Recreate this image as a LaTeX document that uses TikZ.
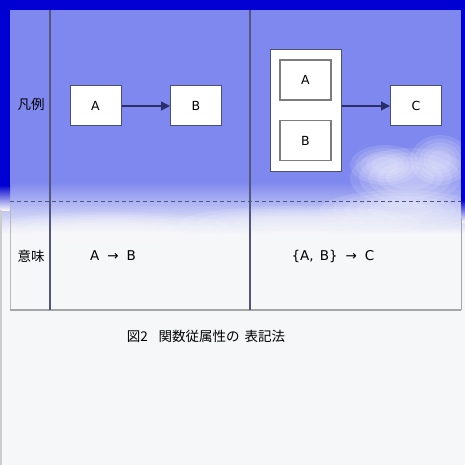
\documentclass[tikz,border=0pt]{standalone}
\usepackage{fontspec}
\setmainfont{DejaVu Sans}
\newfontfamily\jp{Noto Sans CJK JP}
\usetikzlibrary{arrows.meta,positioning}
\definecolor{frameblue}{HTML}{0000D2}
\definecolor{skyblue}{HTML}{7F88EE}
\definecolor{paper}{HTML}{F6F7F9}
\definecolor{rulegray}{HTML}{52567A}
\definecolor{boxline}{HTML}{4A4F78}
\definecolor{innerline}{HTML}{7C7C7C}
\definecolor{arrowline}{HTML}{2A2F6A}
\tikzset{
	box/.style={draw=boxline, fill=white, line width=1pt, minimum width=51pt, minimum height=40pt, inner sep=0pt, font=\fontsize{12.5}{12.5}\selectfont},
	innerbox/.style={box, draw=innerline, line width=1.4pt},
	groupbox/.style={draw=boxline, fill=white, line width=1pt, minimum width=71pt, minimum height=121pt, inner sep=0pt},
	arr/.style={draw=arrowline, line width=1.2pt, -{Triangle[length=9pt,width=9pt]}},
	label/.style={font=\fontsize{13.5}{13.5}\selectfont, inner sep=0pt}
}
\begin{document}
\begin{tikzpicture}[x=1pt,y=-1pt]
	% Parameters
	\def\W{465}
	\def\tl{10}
	\def\tr{461}
	\def\tt{10}
	\def\tm{201}
	\def\tb{310}
	\def\ci{50}
	\def\cii{250}
	\useasboundingbox (0,0) rectangle (\W,\W);
	
	%sky
	\fill[paper] (0,0) rectangle (\W,\W);
	\fill[skyblue] (0,0) rectangle (\W,182);
	\shade[top color=skyblue, bottom color=paper] (0,182) rectangle (\W,234);
	%clouds
	\foreach \cx/\cy/\rx/\ry in {410/178/60/30, 385/165/35/20, 440/160/30/25, 300/222/120/16, 110/228/120/16, 400/210/80/20} {
		\foreach \s in {1.0,0.85,0.7,0.55,0.4} {
			\fill[white, opacity=0.12] (\cx,\cy) ellipse ({\s*\rx} and {\s*\ry});
		}
	}
	
	%frame
	\fill[frameblue] (0,0) rectangle (\W,\tt);
	\fill[frameblue] (0,\tt) rectangle (\tl,185);
	\shade[top color=frameblue, bottom color=paper] (0,185) rectangle (\tl,210);
	\fill[frameblue] (\tr,\tt) rectangle (\W,200);
	\shade[top color=frameblue, bottom color=paper] (\tr,200) rectangle (\W,222);
	\fill[gray!40] (0,210) rectangle (2,\W);
	
	%table
	\draw[gray!55, line width=1pt] (\tl,205) -- (\tl,\tb);
	\draw[gray!70, line width=1pt] (\tr,218) -- (\tr,\tb);
	\draw[gray!70, line width=2pt] (\tl,\tb) -- (\tr,\tb);
	\draw[rulegray, line width=1.2pt] (\ci,\tt) -- (\ci,\tb);
	\draw[rulegray, line width=1.2pt] (\cii,\tt) -- (\cii,\tb);
	\draw[rulegray, line width=1pt, dash pattern=on 4pt off 3pt] (\tl,\tm) -- (\tr,\tm);
	
	%labels
	\node[label] (hanrei) at (31,104) {\jp 凡例};
	\node[label] (imi) at (31,256) {\jp 意味};
	\node[label] (imiab) at (113,256) {A\hspace{8pt}→\hspace{8pt}B};
	\node[label] (imiabc) at (333,256) {\{A,\hspace{6pt}B\}\hspace{8pt}→\hspace{8pt}C};
	\node[label] (caption) at (206,336) {\jp 図2\hspace{11pt}関数従属性の\hspace{5pt}表記法};
	
	%blocks
	\node[box] (a) at (95.5,106) {A};
	\node[box] (b) at (196,106) {B};
	\node[groupbox] (ab) at (305.5,110.5) {};
	\node[innerbox] (ga) at (305.5,80) {A};
	\node[innerbox] (gb) at (305.5,140.5) {B};
	\node[box] (c) at (416,106) {C};
	
	%arrows
	\draw[arr] (a) -- (b);
	\draw[arr] (ab.east |- c.west) -- (c.west);
\end{tikzpicture}
\end{document}
